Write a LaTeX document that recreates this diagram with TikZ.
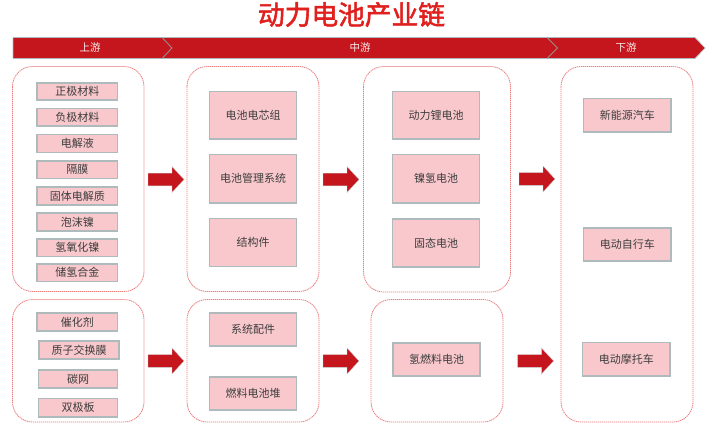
\documentclass[tikz,border=0pt]{standalone}
\usepackage{fontspec}
\setmainfont{Noto Sans CJK SC}
\newfontfamily\titlefont[FakeBold=2]{Noto Sans CJK SC}
\definecolor{brandred}{HTML}{C4161C}
\definecolor{titlered}{HTML}{E0201E}
\definecolor{dashred}{HTML}{EC7C7E}
\definecolor{boxpink}{HTML}{F8C8CC}
\definecolor{boxedge}{HTML}{AFBABD}
\definecolor{labelgray}{HTML}{3C3C3C}
\definecolor{chevgray}{HTML}{9A8A8C}
\tikzset{
  x=1pt,y=-1pt,
  groupbox/.style={draw=dashred,line width=0.8pt,dash pattern=on 1.3pt off 0.7pt,rounded corners=20pt,fill=white},
  itembox/.style={draw=boxedge,line width=1.3pt,fill=boxpink,text=labelgray,font=\fontsize{11}{13}\selectfont,inner sep=0pt},
  flowarrow/.style={draw=boxedge!70,line width=0.4pt,fill=brandred},
  bannerlabel/.style={text=white!92!brandred,font=\fontsize{10.5}{12}\selectfont,inner sep=0pt},
  chevron/.style={draw=chevgray,line width=0.9pt}
}
% \itm{name}{x0}{y0}{x1}{y1}{text}
\newcommand{\itm}[6]{\node[itembox,minimum width=#4pt-#2pt,minimum height=#5pt-#3pt,anchor=center] (#1) at ({(#2+#4)/2},{(#3+#5)/2}) {#6};}
\newcommand{\grp}[5]{\draw[groupbox] (#2,#3) rectangle (#4,#5);}
% block arrow: \flw{name}{left x}{mid y}
\newcommand{\flw}[3]{\coordinate (#1) at (#2,#3);
  \draw[flowarrow] (#1) ++(0,-6.3) -- ++(24,0) -- ++(0,-6.7) -- ++(12,13) -- ++(-12,13) -- ++(0,-6.7) -- ++(-24,0) -- cycle;}
\begin{document}
\begin{tikzpicture}
\useasboundingbox (0,0) rectangle (714,447);
\node[text=titlered,font=\fontsize{26.7}{30}\selectfont\titlefont,inner sep=0pt] (title) at (351.5,14.5) {动力电池产业链};
% banner
\draw[fill=brandred,draw=boxedge,line width=0.7pt] (13,37.5) -- (695,37.5) -- (705,48) -- (695,58.5) -- (13,58.5) -- cycle;
\draw[chevron] (162,37.5) -- (172,48) -- (162,58.5);
\draw[chevron] (547,37.5) -- (557.5,48) -- (547,58.5);
\node[bannerlabel] (up) at (90,47.5) {上游};
\node[bannerlabel] (mid) at (360,47.5) {中游};
\node[bannerlabel] (down) at (626,47.5) {下游};
% groups
\grp{a1}{12.5}{66.5}{144}{291.5}
\grp{b1}{187}{66.5}{319}{291.5}
\grp{c1}{363.5}{66.5}{510.5}{292}
\grp{d1}{561}{66.5}{693}{422}
\grp{a2}{12.5}{299.5}{144}{422}
\grp{b2}{187}{299.5}{319}{422}
\grp{c2}{371}{299.5}{503}{422}
% upstream
\itm{u1}{37}{83}{117.5}{100}{正极材料}
\itm{u2}{37}{108.5}{117.5}{126}{负极材料}
\itm{u3}{37}{134.5}{117.5}{152.5}{电解液}
\itm{u4}{37}{161}{117.5}{178.5}{隔膜}
\itm{u5}{37}{187}{117.5}{205}{固体电解质}
\itm{u6}{37}{213}{117.5}{231}{泡沫镍}
\itm{u7}{37}{239}{117.5}{256.5}{氢氧化镍}
\itm{u8}{37}{264}{117.5}{281.5}{储氢合金}
\itm{v1}{37}{313}{117.5}{331}{催化剂}
\itm{v2}{39}{341}{119}{359}{质子交换膜}
\itm{v3}{38.5}{370}{117.5}{388}{碳网}
\itm{v4}{38.5}{398.5}{117.5}{417}{双极板}
% midstream
\itm{m1}{209.5}{91.5}{296.5}{139}{电池电芯组}
\itm{m2}{209.5}{154.5}{296.5}{203}{电池管理系统}
\itm{m3}{209.5}{218.5}{296.5}{266.5}{结构件}
\itm{m4}{209.5}{313}{296.5}{346}{系统配件}
\itm{m5}{209.5}{377}{296.5}{410}{燃料电池堆}
\itm{n1}{392.5}{91.5}{479.5}{139}{动力锂电池}
\itm{n2}{392.5}{154.5}{479.5}{203}{镍氢电池}
\itm{n3}{392.5}{219}{479.5}{267}{固态电池}
\itm{n4}{393}{343}{480}{376}{氢燃料电池}
% downstream
\itm{d1b}{583.5}{98.5}{671}{132}{新能源汽车}
\itm{d2b}{583.5}{228}{671}{261}{电动自行车}
\itm{d3b}{582.5}{342.5}{670}{376}{电动摩托车}
% flow arrows
\flw{f1}{148}{179.5}
\flw{f2}{323}{179.5}
\flw{f3}{519}{179}
\flw{f4}{148}{361}
\flw{f5}{323}{361}
\flw{f6}{517.5}{361}
\end{tikzpicture}
\end{document}
